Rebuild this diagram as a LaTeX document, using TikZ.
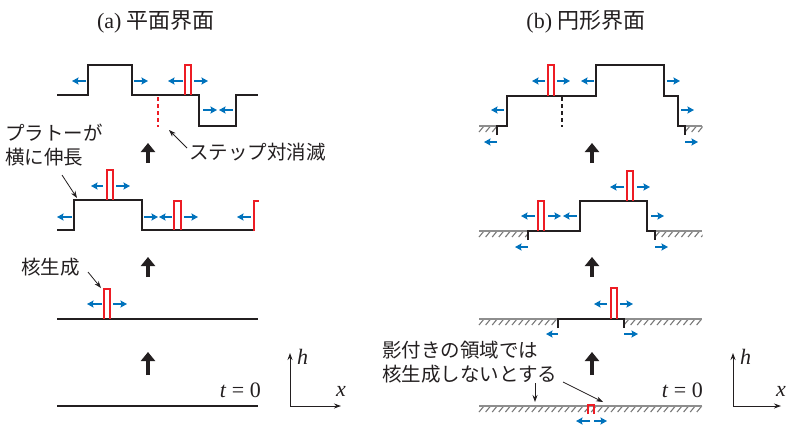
\documentclass[tikz,border=0pt]{standalone}
\usepackage{fontspec}
\setmainfont{Liberation Serif}
\newfontfamily\jp{Noto Sans CJK JP}
\usetikzlibrary{arrows.meta}
\definecolor{ibl}{HTML}{0072BC}
\definecolor{ird}{HTML}{ED1C24}
\definecolor{ign}{HTML}{8E8E8E}
\definecolor{ibk}{HTML}{231F20}
\tikzset{
  surf/.style={draw=ibk, line width=1.8pt, line join=miter},
  nuc/.style={draw=ird, line width=1.7pt, line join=miter},
  bluearr/.style={draw=ibl, line width=1.8pt, -{Stealth[length=6.5pt,width=7pt,inset=1pt]}},
  uparr/.style={draw=ibk, line width=3.2pt, -{Triangle[length=9pt,width=14pt]}},
  ann/.style={draw=ibk, line width=0.8pt, -{Stealth[length=7pt,width=5pt]}},
  axisarr/.style={draw=ibk, line width=0.9pt, -{Stealth[length=7pt,width=5pt]}},
  gnd/.style={draw=ign, line width=1.8pt},
  hatchl/.style={draw=ign!85!black, line width=1.1pt},
  lbl/.style={inner sep=0pt, font=\jp\fontsize{19.5}{24}\selectfont, text=ibk},
  ttl/.style={inner sep=0pt, font=\fontsize{22}{26}\selectfont, text=ibk},
  mth/.style={inner sep=0pt, font=\fontsize{22}{26}\selectfont, text=ibk},
}
\newcommand\barr[3]{\draw[bluearr] (#1,#3) -- (#2,#3);}
\newcommand\upar[3]{\draw[uparr] (#1,#2) -- (#1,#3);}
\newcommand\gground[3]{%
  \begin{scope}
    \clip (#1-0.5,#3) rectangle (#2+0.5,#3+7);
    \foreach \i in {0,...,40}{\draw[hatchl] ({#1+5+\i*6.6},#3) -- ++(-5,6);}
  \end{scope}
  \draw[gnd] (#1,#3) -- (#2,#3);}
\begin{document}
\begin{tikzpicture}[x=1pt,y=-1pt]
\useasboundingbox (0,0) rectangle (789,424);

% ---------- titles ----------
\node[ttl] (ta) at (156,22) {(a) {\jp 平面界面}};
\node[ttl] (tb) at (586,22) {(b) {\jp 円形界面}};

% ================= panel (a) =================
% level 1
\draw[surf] (57,95) -- (88,95) -- (88,65) -- (132,65) -- (132,95) -- (199,95) -- (199,126) -- (236,126) -- (236,95) -- (258,95);
\draw[nuc] (185,95) -- (185,65) -- (191,65) -- (191,95);
\draw[draw=ird, line width=1.6pt, dash pattern=on 4pt off 3pt] (158,97) -- (158,127);
\barr{86}{72}{81} \barr{134}{148}{81}
\barr{183}{168}{81} \barr{194}{208}{81}
\barr{203}{217}{110} \barr{233}{219}{110}
\upar{148}{163}{143}

% level 2
\draw[surf] (57,230) -- (74,230) -- (74,200) -- (142,200) -- (142,230) -- (254,230);
\draw[nuc] (107,200) -- (107,170) -- (113,170) -- (113,200);
\draw[nuc] (174,230) -- (174,201) -- (181,201) -- (181,230);
\draw[nuc] (254,231) -- (254,201) -- (259,201);
\barr{103}{91}{186} \barr{116}{130}{186}
\barr{72}{57}{217} \barr{144}{158}{217}
\barr{172}{159}{217} \barr{184}{198}{217}
\barr{251}{237}{217}
\upar{148}{277}{257}

% level 3
\draw[surf] (57,319) -- (258,319);
\draw[nuc] (104,319) -- (104,289) -- (110,289) -- (110,319);
\barr{102}{87}{304} \barr{113}{127}{304}
\upar{148}{375}{352}

% level 4
\draw[surf] (57,406) -- (258,406);
\node[mth, anchor=east] (t0a) at (261,390) {\textit{t} = 0};

% axes (a)
\coordinate (oa) at (290,406);
\coordinate (ha) at (290,353);
\coordinate (xa) at (341,406);
\draw[axisarr] (oa) -- (ha);
\draw[axisarr] (oa) -- (xa);
\node[mth, anchor=west] (hla) at (297,357) {\textit{h}};
\node[mth, anchor=west] (xla) at (336,391) {\textit{x}};

% labels (a)
\node[lbl, anchor=west, align=left] (plat) at (5,145) {プラトーが\\横に伸長};
\coordinate (plats) at (62,175);
\coordinate (plate) at (77,198);
\draw[ann] (plats) -- (plate);

\node[lbl, anchor=west] (anni) at (189,152) {ステップ対消滅};
\coordinate (annis) at (187,148);
\coordinate (annie) at (169,130);
\draw[ann] (annis) -- (annie);

\node[lbl, anchor=west] (nucl) at (21,267) {核生成};
\coordinate (nucls) at (88,272);
\coordinate (nucle) at (101,288);
\draw[ann] (nucls) -- (nucle);

% ================= panel (b) =================
% level 1
\gground{479}{497}{126}
\gground{685}{702}{126}
\draw[surf] (497,135) -- (497,126) -- (507,126) -- (507,96) -- (596,96) -- (596,65) -- (664,65) -- (664,96) -- (678,96) -- (678,126) -- (685,126) -- (685,135);
\draw[nuc] (548,96) -- (548,65) -- (554,65) -- (554,96);
\draw[draw=ibk, line width=1.6pt, dash pattern=on 4pt off 3pt] (562,97) -- (562,127);
\barr{545}{532}{81} \barr{557}{570}{81}
\barr{594}{581}{81} \barr{667}{680}{81}
\barr{504}{491}{110} \barr{681}{694}{110}
\barr{497}{484}{142} \barr{685}{698}{142}
\upar{592}{163}{143}

% level 2
\gground{479}{528}{231}
\gground{655}{702}{231}
\draw[surf] (528,240) -- (528,231) -- (580,231) -- (580,201) -- (647,201) -- (647,231) -- (655,231) -- (655,240);
\draw[nuc] (538,231) -- (538,201) -- (544,201) -- (544,231);
\draw[nuc] (627,201) -- (627,171) -- (633,171) -- (633,201);
\barr{535}{521}{216} \barr{548}{561}{216}
\barr{577}{563}{216} \barr{651}{664}{216}
\barr{624}{610}{187} \barr{637}{650}{187}
\barr{528}{515}{247} \barr{655}{668}{247}
\upar{592}{277}{257}

% level 3
\gground{479}{558}{319}
\gground{624}{702}{319}
\draw[surf] (558,328) -- (558,319) -- (624,319) -- (624,328);
\draw[nuc] (611,319) -- (611,288) -- (617,288) -- (617,319);
\barr{607}{594}{304} \barr{620}{633}{304}
\barr{558}{546}{334} \barr{624}{638}{334}
\upar{592}{375}{352}

% level 4
\gground{479}{702}{406}
\draw[nuc] (588,414) -- (588,405) -- (594,405) -- (594,414);
\barr{590}{576}{421} \barr{594}{607}{421}
\node[mth, anchor=east] (t0b) at (703,390) {\textit{t} = 0};

% axes (b)
\coordinate (ob) at (733,406);
\coordinate (hb) at (733,353);
\coordinate (xb) at (781,406);
\draw[axisarr] (ob) -- (hb);
\draw[axisarr] (ob) -- (xb);
\node[mth, anchor=west] (hlb) at (740,357) {\textit{h}};
\node[mth, anchor=west] (xlb) at (776,391) {\textit{x}};

% label (b)
\node[lbl, anchor=west, align=left] (shad) at (382,362) {影付きの領域では\\核生成しないとする};
\coordinate (shs1) at (535,383);
\coordinate (she1) at (535,402);
\coordinate (shs2) at (563,382);
\coordinate (she2) at (603,402);
\draw[ann] (shs1) -- (she1);
\draw[ann] (shs2) -- (she2);
\end{tikzpicture}
\end{document}
